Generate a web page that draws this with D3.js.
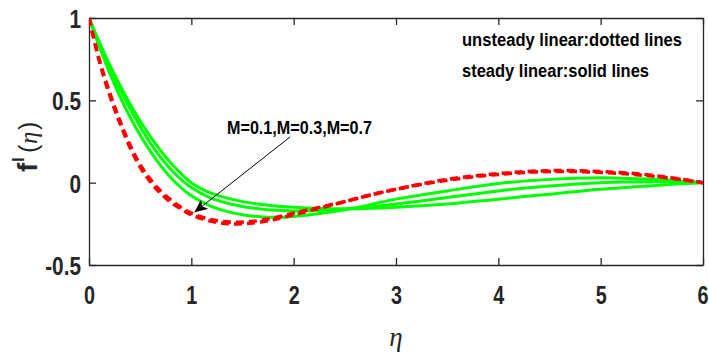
<!DOCTYPE html>
<html>
<head>
<meta charset="utf-8">
<script src="https://cdn.jsdelivr.net/npm/d3@7"></script>
<style>
  html, body { margin: 0; padding: 0; background: #fff; }
  svg { display: block; }
  .tick text { font-family: "Liberation Sans", Arial, sans-serif; font-weight: bold; }
</style>
</head>
<body>
<svg id="chart" width="709" height="356"></svg>
<script>
// ---- data ----
const xTicks = [0, 1, 2, 3, 4, 5, 6];
const yTicks = [-0.5, 0, 0.5, 1];
const yTickLabels = ["-0.5", "0", "0.5", "1"];

// unsteady linear (dotted / dashed red)
const redEta = [0, 0.1, 0.2, 0.3, 0.4, 0.5, 0.6, 0.7, 0.8, 0.9, 1.0, 1.2, 1.4, 1.6, 1.8, 2.0, 2.25, 2.5, 2.75, 3.0, 3.5, 4.0, 4.5, 5.0, 5.5, 6.0];
const redA = [1, 0.75, 0.55, 0.38, 0.23, 0.11, 0.02, -0.05, -0.105, -0.15, -0.185, -0.225, -0.24, -0.235, -0.215, -0.185, -0.15, -0.115, -0.075, -0.04, 0.015, 0.05, 0.068, 0.062, 0.04, 0];
const redB = [1, 0.74, 0.535, 0.365, 0.215, 0.095, 0.005, -0.065, -0.12, -0.16, -0.195, -0.235, -0.25, -0.245, -0.225, -0.195, -0.155, -0.115, -0.075, -0.04, 0.02, 0.055, 0.073, 0.068, 0.045, 0];

// steady linear (solid green), M = 0.1, 0.3, 0.7
const greenEta = [0, 0.2, 0.4, 0.6, 0.8, 1.0, 1.2, 1.5, 1.75, 2.0, 2.5, 3.0, 3.5, 4.0, 4.5, 5.0, 5.5, 6.0];
const greenM1 = [1, 0.72, 0.48, 0.28, 0.12, 0.0, -0.065, -0.115, -0.137, -0.15, -0.16, -0.15, -0.13, -0.10, -0.07, -0.04, -0.018, 0];
const greenM2 = [1, 0.70, 0.45, 0.24, 0.08, -0.03, -0.095, -0.145, -0.165, -0.172, -0.16, -0.13, -0.09, -0.05, -0.02, 0.0, 0.006, 0];
const greenM3 = [1, 0.67, 0.40, 0.19, 0.03, -0.08, -0.145, -0.195, -0.21, -0.205, -0.165, -0.10, -0.05, -0.005, 0.02, 0.03, 0.02, 0];

const annotationText = "M=0.1,M=0.3,M=0.7";
const legendLines = ["unsteady linear:dotted lines", "steady linear:solid lines"];

// ---- drawing ----
(function () {
const svg = d3.select("#chart");
const pL = 89, pR = 703, pT = 18, pB = 265;
const x = d3.scaleLinear().domain([0, 6]).range([pL, pR]);
const y = d3.scaleLinear().domain([-0.5, 1]).range([pB, pT]);
const axisColor = "#262626";
const tickFont = 26;
const sans = "Liberation Sans, Arial, sans-serif";
const defs = svg.append("defs");

function condense(sel, k) {
  sel.each(function () {
    const w = this.getComputedTextLength();
    d3.select(this).attr("textLength", w * k).attr("lengthAdjust", "spacingAndGlyphs");
  });
}

defs.append("clipPath").attr("id", "clip")
  .append("rect").attr("x", pL).attr("y", pT - 2).attr("width", pR - pL).attr("height", pB - pT + 4);

// axes
const gx = svg.append("g").attr("transform", `translate(0,${pB})`)
  .call(d3.axisBottom(x).tickValues(xTicks).tickFormat(d3.format("d")).tickSizeInner(-7).tickSizeOuter(0));
const gxTop = svg.append("g").attr("transform", `translate(0,${pT})`)
  .call(d3.axisTop(x).tickValues(xTicks).tickFormat("").tickSizeInner(-7).tickSizeOuter(0));
const gy = svg.append("g").attr("transform", `translate(${pL},0)`)
  .call(d3.axisLeft(y).tickValues(yTicks).tickFormat((d, i) => yTickLabels[i]).tickSizeInner(-7).tickSizeOuter(0).tickPadding(8));
const gyR = svg.append("g").attr("transform", `translate(${pR},0)`)
  .call(d3.axisRight(y).tickValues(yTicks).tickFormat("").tickSizeInner(-7).tickSizeOuter(0));

[gx, gxTop, gy, gyR].forEach(g => {
  g.select(".domain").attr("stroke", axisColor).attr("stroke-width", 1.3);
  g.selectAll(".tick line").attr("stroke", axisColor).attr("stroke-width", 1.3);
  g.selectAll(".tick text").attr("fill", axisColor).attr("font-size", tickFont);
});
gx.selectAll(".tick text").attr("y", 39).attr("dy", 0);
gy.selectAll(".tick text").attr("dy", "0.36em");
condense(gx.selectAll(".tick text"), 0.76);
condense(gy.selectAll(".tick text"), 0.8);
// keep the last x label inside the page edge
gx.selectAll(".tick text").filter(d => d === 6).attr("text-anchor", "end").attr("x", 5);

// lines
const plot = svg.append("g").attr("clip-path", "url(#clip)");
const mk = (etas) => d3.line().x((d, i) => x(etas[i])).y(d => y(d)).curve(d3.curveCatmullRom.alpha(0.5));

[greenM1, greenM2, greenM3].forEach(s => {
  plot.append("path").attr("d", mk(greenEta)(s))
    .attr("fill", "none").attr("stroke", "#00ff00").attr("stroke-width", 3);
});
[redA, redB].forEach(s => {
  plot.append("path").attr("d", mk(redEta)(s))
    .attr("fill", "none").attr("stroke", "#ff0000").attr("stroke-width", 3.5)
    .attr("stroke-dasharray", "8,5");
});

// y label f^I(η)  (rotated group; local x runs upward)
const yl = svg.append("g").attr("transform", "translate(37,172) rotate(-90)").attr("fill", axisColor);
yl.append("text").attr("x", 0).attr("y", 0).attr("font-family", sans).attr("font-weight", "bold").attr("font-size", 28).text("f");
yl.append("text").attr("x", 10).attr("y", -13).attr("font-family", sans).attr("font-weight", "bold").attr("font-size", 17).text("I");
yl.append("text").attr("x", 19).attr("y", 0).attr("font-family", sans).attr("font-size", 25).text("(");
yl.append("text").attr("x", 28).attr("y", 0).attr("font-family", "Liberation Serif, serif").attr("font-style", "italic").attr("font-size", 25).text("η");
yl.append("text").attr("x", 42).attr("y", 0).attr("font-family", sans).attr("font-size", 25).text(")");

// x label η
svg.append("text").attr("x", x(3)).attr("y", 346).attr("text-anchor", "middle")
  .attr("font-family", "Liberation Serif, serif").attr("font-style", "italic").attr("font-size", 27)
  .attr("fill", axisColor).text("η");

// annotation
const ann = svg.append("text").attr("x", 227).attr("y", 134)
  .attr("font-family", sans).attr("font-weight", "bold").attr("font-size", 19)
  .attr("fill", "#000").text(annotationText);
ann.attr("textLength", 145).attr("lengthAdjust", "spacingAndGlyphs");

defs.append("marker").attr("id", "arr")
  .attr("viewBox", "0 0 10 10").attr("refX", 10).attr("refY", 5)
  .attr("markerWidth", 13).attr("markerHeight", 13).attr("markerUnits", "userSpaceOnUse").attr("orient", "auto")
  .append("path").attr("d", "M0,0.5 L10,5 L0,9.5 L2.5,5 Z").attr("fill", "#000");

svg.append("line").attr("x1", 290).attr("y1", 137).attr("x2", x(1.03)).attr("y2", y(-0.18))
  .attr("stroke", "#000").attr("stroke-width", 1).attr("marker-end", "url(#arr)");

// legend text
const legendWidths = [220, 187];
legendLines.forEach((t, i) => {
  svg.append("text").attr("x", 462).attr("y", 46 + i * 31)
    .attr("font-family", sans).attr("font-weight", "bold").attr("font-size", 18)
    .attr("fill", "#000").text(t)
    .attr("textLength", legendWidths[i]).attr("lengthAdjust", "spacingAndGlyphs");
});
})();
</script>
</body>
</html>
